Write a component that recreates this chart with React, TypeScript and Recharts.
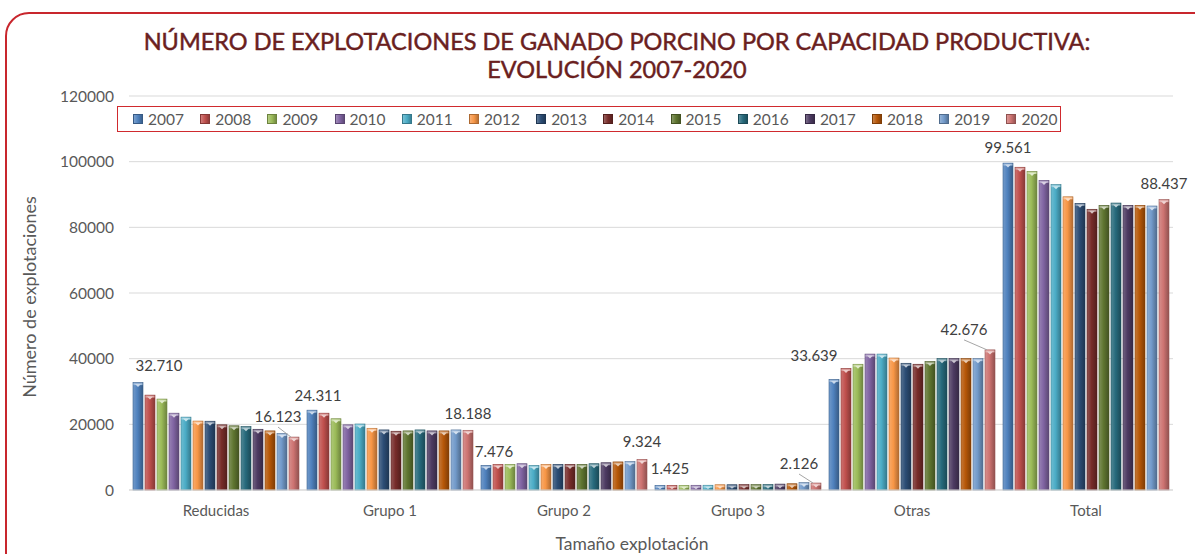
import React from "react";
import { BarChart, Bar, XAxis, YAxis, CartesianGrid, LabelList } from "recharts";

const categories = ["Reducidas", "Grupo 1", "Grupo 2", "Grupo 3", "Otras", "Total"];
const years = ["2007", "2008", "2009", "2010", "2011", "2012", "2013", "2014", "2015", "2016", "2017", "2018", "2019", "2020"];

// values per year, in the order of categories
const v2007 = [32710, 24311, 7476, 1425, 33639, 99561];
const v2008 = [28900, 23400, 7800, 1430, 37000, 98300];
const v2009 = [27700, 21700, 7800, 1430, 38300, 97000];
const v2010 = [23400, 19850, 8000, 1440, 41400, 94300];
const v2011 = [22200, 20100, 7450, 1450, 41400, 93000];
const v2012 = [21000, 18800, 7800, 1600, 40200, 89300];
const v2013 = [20950, 18300, 7800, 1600, 38600, 87300];
const v2014 = [19850, 17900, 7800, 1620, 38300, 85500];
const v2015 = [19550, 18000, 7800, 1620, 39100, 86700];
const v2016 = [19300, 18300, 8000, 1650, 40000, 87400];
const v2017 = [18500, 18000, 8300, 1800, 40000, 86700];
const v2018 = [18000, 18000, 8550, 1900, 40000, 86700];
const v2019 = [17200, 18300, 8650, 2250, 40000, 86500];
const v2020 = [16123, 18188, 9324, 2126, 42676, 88437];

const seriesValues = [v2007, v2008, v2009, v2010, v2011, v2012, v2013, v2014, v2015, v2016, v2017, v2018, v2019, v2020];

const yTicks = [0, 20000, 40000, 60000, 80000, 100000, 120000];

const colors = [
  "#4F81BD", "#C0504D", "#9BBB59", "#8064A2", "#4BACC6", "#F79646", "#2C4D75",
  "#772C2A", "#5F7530", "#276A7C", "#4D3B62", "#B65708", "#729ACA", "#CD7371",
];

// label placement (dx, dy from bar top centre) for first and last series
const firstLabelOffsets = [[21, -18], [6, -15], [8, -14], [10, -17], [-20, -25], [0, -16]];
const lastLabelOffsets = [[-16, -21], [0, -17], [0, -18], [-17, -20], [-26, -21], [0, -17]];
const lastLabelLeader = [true, false, false, true, true, false];

const data = categories.map((name, i) => {
  const row: Record<string, string | number> = { name };
  years.forEach((y, s) => {
    row[y] = seriesValues[s][i];
  });
  return row;
});

const FONT = "Lato, 'Open Sans', sans-serif";

const fmt = (v: number) => String(v).replace(/\B(?=(\d{3})+(?!\d))/g, ".");

function shade(hex: string, amt: number) {
  const n = parseInt(hex.slice(1), 16);
  let r = (n >> 16) & 255, g = (n >> 8) & 255, b = n & 255;
  const f = (c: number) => Math.round(amt >= 0 ? c + (255 - c) * amt : c * (1 + amt));
  r = f(r); g = f(g); b = f(b);
  return `rgb(${r},${g},${b})`;
}

const BevelBar = (props: any) => {
  const { x, y, width, height, color, gid } = props;
  if (!height || height <= 0) return null;
  const cx = x + width / 2;
  const t = Math.min(3, height / 2);
  return (
    <g>
      <rect x={x} y={y} width={width} height={height} fill={`url(#${gid})`} stroke={shade(color, -0.25)} strokeWidth={0.6} />
      <rect x={x + 0.5} y={y + 0.5} width={width - 1} height={Math.min(2, height - 1)} fill={shade(color, 0.45)} />
      <polygon points={`${cx - 3},${y + 1.5} ${cx + 3},${y + 1.5} ${cx},${y + 1.5 + t}`} fill={shade(color, 0.7)} />
    </g>
  );
};

const makeLabel = (offsets: number[][], leaders?: boolean[]) => (props: any) => {
  const { x, y, width, value, index } = props;
  const [dx, dy] = offsets[index];
  const bx = x + width / 2;
  const tx = bx + dx;
  const ty = y + dy;
  return (
    <g>
      {leaders && leaders[index] ? (
        <line x1={tx} y1={ty + 11} x2={bx - 3} y2={y} stroke="#A6A6A6" strokeWidth={1} />
      ) : null}
      <text x={tx} y={ty} textAnchor="middle" dominantBaseline="central" fill="#404040" fontSize={15} fontFamily={FONT}>
        {fmt(value)}
      </text>
    </g>
  );
};

function LegendBox() {
  return (
    <div
      style={{
        position: "absolute",
        left: 117,
        top: 106,
        width: 944,
        height: 26,
        border: "1.5px solid #D02A2E",
        boxSizing: "border-box",
        display: "flex",
        alignItems: "center",
        paddingLeft: 15,
        fontFamily: FONT,
        fontSize: 15.5,
        color: "#595959",
      }}
    >
      {years.map((y, i) => (
        <div key={y} style={{ display: "flex", alignItems: "center", width: 67.2, flexShrink: 0 }}>
          <span
            style={{
              display: "inline-block",
              width: 10,
              height: 10,
              marginRight: 5,
              background: `linear-gradient(to right, ${shade(colors[i], 0.25)}, ${colors[i]} 50%, ${shade(colors[i], -0.25)})`,
              border: `0.5px solid ${shade(colors[i], -0.3)}`,
              boxSizing: "border-box",
            }}
          />
          <span>{y}</span>
        </div>
      ))}
    </div>
  );
}

export default function App() {
  return (
    <div style={{ position: "absolute", left: 0, top: 0, width: 1195, height: 554, background: "#fff", overflow: "hidden" }}>
      <div
        style={{
          position: "absolute",
          left: 5,
          top: 12,
          width: 1220,
          height: 570,
          border: "2px solid #C8262D",
          borderRadius: 24,
          boxSizing: "border-box",
        }}
      />
      <div
        style={{
          position: "absolute",
          left: 0,
          top: 27,
          width: 1234,
          textAlign: "center",
          fontFamily: FONT,
          fontSize: 23.5,
          lineHeight: "28px",
          color: "#6A2020",
          fontWeight: 400,
          whiteSpace: "nowrap",
          WebkitTextStroke: "0.45px #6A2020",
        }}
      >
        NÚMERO DE EXPLOTACIONES DE GANADO PORCINO POR CAPACIDAD PRODUCTIVA:
        <br />
        EVOLUCIÓN 2007-2020
      </div>
      <div style={{ position: "absolute", left: 0, top: 0 }}>
        <BarChart
          width={1195}
          height={554}
          data={data}
          margin={{ top: 96, right: 22, bottom: 34, left: 0 }}
          barCategoryGap={4}
          barGap={2}
        >
          <defs>
            {colors.map((c, i) => (
              <linearGradient key={i} id={`g${i}`} x1="0" y1="0" x2="1" y2="0">
                <stop offset="0%" stopColor={shade(c, 0.2)} />
                <stop offset="45%" stopColor={c} />
                <stop offset="100%" stopColor={shade(c, -0.3)} />
              </linearGradient>
            ))}
          </defs>
          <CartesianGrid vertical={false} stroke="#D9D9D9" />
          <XAxis
            dataKey="name"
            axisLine={{ stroke: "#D9D9D9" }}
            tickLine={false}
            tickSize={0}
            tickMargin={15}
            height={30}
            tick={{ fill: "#595959", fontSize: 15, fontFamily: FONT }}
          />
          <YAxis
            domain={[0, 120000]}
            ticks={yTicks}
            width={129}
            axisLine={false}
            tickLine={false}
            tickSize={0}
            tickMargin={15}
            tick={{ fill: "#595959", fontSize: 15.5, fontFamily: FONT }}
          />
          {years.map((y, i) => (
            <Bar
              key={y}
              dataKey={y}
              fill={colors[i]}
              isAnimationActive={false}
              shape={(p: any) => <BevelBar {...p} color={colors[i]} gid={`g${i}`} />}
            >
              {i === 0 ? <LabelList dataKey={y} content={makeLabel(firstLabelOffsets)} /> : null}
              {i === years.length - 1 ? (
                <LabelList dataKey={y} content={makeLabel(lastLabelOffsets, lastLabelLeader)} />
              ) : null}
            </Bar>
          ))}
        </BarChart>
      </div>
      <LegendBox />
      <div
        style={{
          position: "absolute",
          left: 29,
          top: 297,
          transform: "translate(-50%, -50%) rotate(-90deg)",
          whiteSpace: "nowrap",
          fontFamily: FONT,
          fontSize: 18,
          color: "#595959",
        }}
      >
        Número de explotaciones
      </div>
      <div
        style={{
          position: "absolute",
          left: 632,
          top: 544,
          transform: "translate(-50%, -50%)",
          whiteSpace: "nowrap",
          fontFamily: FONT,
          fontSize: 17.5,
          lineHeight: "18px",
          color: "#595959",
        }}
      >
        Tamaño explotación
      </div>
    </div>
  );
}
